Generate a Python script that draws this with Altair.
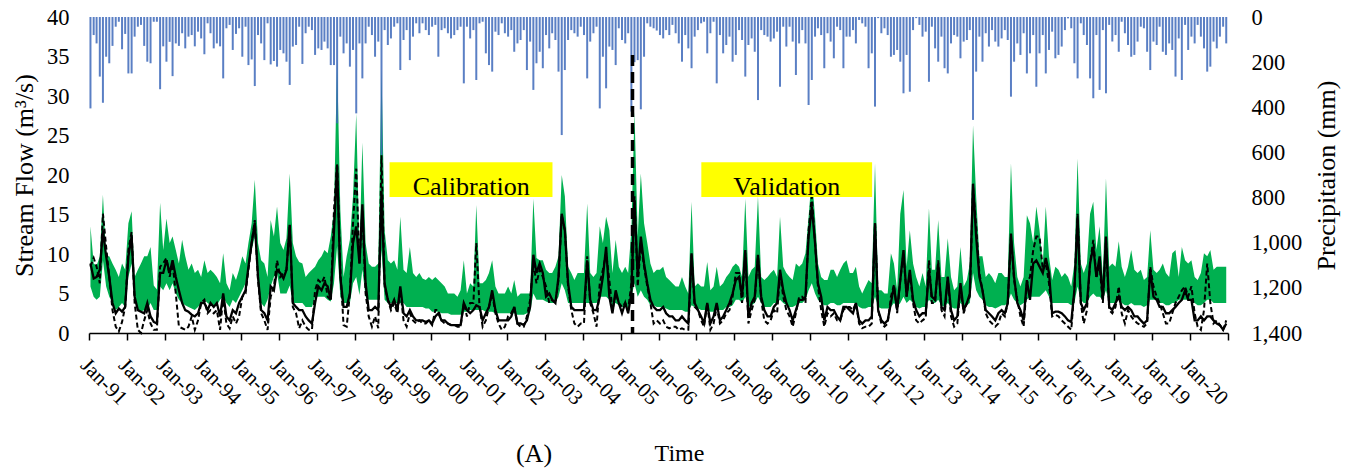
import altair as alt
import pandas as pd

# ---------------- data (monthly, Jan 1991 - Dec 2020) ----------------
precip_mm = [
    405, 80, 117, 264, 380, 176, 205, 128, 43, 21, 143, 75,
    250, 250, 87, 43, 35, 128, 198, 205, 21, 21, 320, 130,
    198, 110, 262, 117, 128, 72, 139, 87, 80, 130, 65, 95,
    165, 28, 72, 139, 117, 130, 272, 50, 35, 146, 75, 50,
    176, 43, 213, 188, 306, 80, 117, 191, 28, 210, 195, 220,
    146, 161, 198, 301, 131, 124, 43, 208, 72, 43, 58, 168,
    139, 146, 109, 139, 213, 213, 471, 87, 161, 117, 220, 146,
    427, 117, 272, 117, 43, 80, 176, 109, 611, 58, 124, 95,
    43, 28, 235, 102, 58, 191, 87, 28, 72, 28, 58, 80,
    43, 35, 176, 58, 50, 72, 95, 80, 58, 43, 294, 43,
    95, 58, 279, 28, 21, 161, 213, 242, 65, 80, 28, 72,
    87, 58, 154, 117, 102, 58, 235, 109, 323, 205, 154, 227,
    80, 139, 72, 102, 242, 523, 235, 102, 58, 72, 87, 43,
    80, 272, 109, 72, 43, 405, 176, 316, 131, 146, 213, 50,
    102, 117, 72, 419, 200, 191, 409, 176, 28, 43, 50, 60,
    80, 95, 58, 80, 35, 72, 117, 198, 80, 139, 227, 87,
    58, 28, 21, 161, 72, 21, 294, 80, 161, 124, 87, 198,
    168, 58, 102, 264, 124, 95, 154, 368, 58, 80, 87, 109,
    95, 65, 309, 43, 131, 43, 109, 257, 117, 58, 117, 390,
    279, 87, 50, 80, 227, 72, 109, 183, 43, 58, 227, 87,
    87, 58, 117, 13, 28, 43, 227, 161, 397, 5, 72, 50,
    80, 176, 168, 146, 198, 338, 168, 331, 58, 5, 35, 87,
    65, 287, 43, 139, 198, 87, 227, 250, 117, 80, 87, 183,
    109, 102, 58, 456, 242, 87, 198, 72, 131, 58, 109, 131,
    95, 58, 102, 353, 198, 117, 168, 72, 250, 161, 80, 309,
    161, 80, 250, 146, 65, 183, 168, 131, 58, 6, 50, 205,
    272, 28, 80, 124, 272, 360, 80, 323, 58, 338, 35, 109,
    80, 154, 21, 72, 124, 176, 168, 109, 43, 50, 154, 235,
    109, 124, 43, 154, 168, 117, 146, 264, 95, 279, 35, 146,
    87, 117, 35, 87, 139, 242, 220, 109, 139, 87, 43, 117,
]

ppu_upper = [
    13.5, 8.8, 8.5, 9.7, 17.5, 9.7, 9.7, 8.8, 8.0, 7.1, 8.8, 8.0,
    13.9, 15.4, 7.1, 8.0, 8.8, 9.7, 9.7, 10.9, 6.0, 5.5, 16.5, 10.5,
    14.5, 11.4, 12.2, 10.5, 8.8, 11.8, 9.7, 8.0, 8.8, 7.6, 8.0, 7.1,
    9.2, 7.6, 8.0, 7.6, 7.1, 6.3, 10.1, 6.3, 5.4, 7.6, 6.7, 8.0,
    9.7, 8.8, 11.4, 13.9, 19.4, 11.4, 9.2, 8.8, 7.1, 14.3, 12.2, 16.0,
    11.4, 10.5, 12.0, 20.2, 11.4, 9.7, 9.0, 8.8, 7.1, 7.6, 8.0, 8.4,
    9.2, 9.7, 10.5, 10.1, 12.2, 15.6, 34.6, 15.6, 7.1, 9.7, 11.8, 17.3,
    27.8, 10.1, 24.1, 11.4, 8.8, 8.4, 8.4, 8.8, 33.4, 13.0, 9.2, 8.8,
    9.2, 8.0, 14.7, 8.0, 7.6, 10.9, 7.6, 7.1, 7.6, 6.9, 6.7, 7.1,
    6.7, 7.1, 6.7, 6.3, 5.9, 5.0, 5.0, 5.0, 4.6, 5.4, 9.2, 5.0,
    6.3, 5.9, 16.2, 6.3, 6.3, 6.7, 7.6, 9.2, 5.9, 5.0, 5.0, 5.0,
    5.9, 5.0, 6.7, 4.6, 5.0, 5.0, 5.0, 5.0, 17.0, 9.5, 9.2, 9.2,
    8.0, 7.6, 7.6, 8.4, 9.7, 20.0, 17.3, 8.4, 7.6, 6.7, 7.6, 7.6,
    7.6, 16.4, 7.6, 7.1, 7.6, 13.5, 11.4, 14.7, 13.0, 7.6, 11.8, 8.4,
    7.6, 8.4, 7.6, 13.0, 28.0, 12.2, 20.2, 13.9, 11.4, 8.8, 7.6, 8.0,
    8.0, 8.4, 7.1, 6.7, 6.3, 5.9, 5.9, 7.1, 5.9, 5.0, 16.6, 5.9,
    6.3, 5.9, 5.9, 9.0, 5.4, 5.9, 8.4, 5.9, 6.3, 7.1, 7.6, 8.4,
    8.8, 8.4, 7.1, 17.0, 7.1, 8.0, 8.4, 17.3, 7.1, 6.7, 7.1, 7.6,
    8.0, 7.1, 14.7, 8.4, 7.6, 7.1, 6.7, 8.8, 8.4, 8.8, 10.1, 14.7,
    19.8, 14.7, 8.8, 7.1, 6.7, 6.7, 8.0, 8.0, 7.1, 8.0, 8.8, 9.2,
    7.6, 7.6, 8.4, 5.9, 5.0, 5.9, 6.7, 6.3, 21.5, 5.4, 5.4, 5.0,
    5.0, 10.1, 8.8, 5.4, 15.1, 18.1, 8.4, 13.0, 8.8, 7.1, 5.9, 7.6,
    5.9, 15.8, 8.0, 8.0, 14.3, 7.1, 7.1, 12.0, 7.1, 5.4, 5.9, 10.9,
    5.9, 6.7, 8.8, 26.3, 17.3, 9.7, 9.7, 7.1, 7.6, 7.1, 6.3, 7.6,
    7.6, 7.1, 7.1, 21.5, 11.4, 7.1, 5.9, 7.1, 14.9, 13.9, 11.4, 16.0,
    13.0, 8.8, 16.0, 9.7, 6.7, 8.4, 8.0, 7.1, 7.6, 7.1, 5.9, 8.8,
    22.1, 8.8, 7.6, 8.8, 15.1, 16.6, 10.5, 13.5, 7.1, 19.6, 8.4, 8.8,
    8.4, 11.6, 8.4, 7.1, 8.4, 10.5, 8.0, 7.6, 8.0, 6.7, 7.1, 13.0,
    8.0, 7.6, 8.0, 8.8, 7.6, 7.1, 10.1, 10.5, 7.1, 10.9, 9.2, 8.8,
    9.2, 7.1, 6.7, 7.6, 10.1, 9.7, 10.5, 8.0, 8.4, 8.4, 8.4, 8.4,
]

ppu_lower = [
    5.9, 4.6, 4.2, 4.6, 9.2, 5.9, 4.6, 3.8, 2.9, 3.3, 3.8, 3.3,
    7.1, 8.8, 4.2, 2.9, 2.7, 2.9, 2.9, 3.8, 2.9, 2.9, 5.9, 5.4,
    6.3, 5.4, 6.3, 5.0, 4.2, 3.8, 3.5, 3.3, 3.1, 2.9, 3.3, 3.8,
    4.2, 3.8, 3.5, 3.3, 3.5, 4.2, 4.6, 3.8, 3.3, 4.2, 3.8, 4.6,
    5.4, 6.3, 8.0, 10.5, 12.2, 6.3, 3.8, 3.3, 4.2, 5.9, 7.1, 7.6,
    5.0, 5.0, 5.0, 6.0, 3.8, 3.8, 3.8, 3.8, 3.3, 3.3, 3.3, 4.6,
    4.6, 4.6, 4.6, 4.2, 4.0, 6.3, 11.0, 4.6, 3.8, 3.8, 3.8, 6.3,
    7.1, 4.8, 8.0, 4.6, 4.2, 4.2, 4.2, 4.2, 10.5, 4.2, 3.8, 3.8,
    3.8, 3.8, 3.8, 3.8, 3.3, 3.3, 3.3, 3.3, 3.3, 3.3, 3.1, 3.1,
    2.7, 2.7, 2.7, 2.5, 2.5, 2.5, 2.3, 2.3, 2.3, 2.3, 2.7, 2.7,
    2.9, 2.9, 2.9, 2.9, 2.9, 2.7, 2.7, 2.7, 2.5, 2.5, 2.5, 2.5,
    2.5, 2.5, 2.5, 2.3, 2.3, 2.3, 2.5, 2.7, 5.0, 4.2, 4.2, 4.2,
    4.0, 3.8, 3.8, 3.8, 4.6, 6.3, 5.4, 3.8, 3.8, 3.8, 3.8, 3.8,
    3.8, 3.8, 3.8, 3.8, 3.8, 4.6, 4.6, 4.6, 4.2, 3.5, 3.8, 3.5,
    3.3, 3.3, 3.3, 4.6, 6.3, 4.6, 5.4, 4.6, 4.2, 3.5, 3.5, 3.3,
    3.3, 3.3, 3.1, 2.9, 2.9, 2.9, 2.9, 2.9, 2.7, 2.7, 3.5, 3.3,
    3.1, 2.9, 2.9, 2.9, 2.7, 2.7, 2.9, 2.9, 2.9, 3.3, 3.3, 3.5,
    4.2, 4.2, 3.8, 4.6, 3.3, 3.5, 3.8, 4.6, 3.8, 3.3, 3.3, 3.3,
    3.8, 3.8, 4.2, 3.8, 3.5, 3.3, 3.3, 3.5, 3.8, 3.8, 4.2, 5.4,
    6.3, 5.0, 4.2, 3.8, 3.5, 3.5, 3.8, 3.8, 3.5, 3.5, 3.8, 3.8,
    3.8, 3.8, 3.8, 3.3, 3.1, 3.1, 3.3, 3.3, 4.6, 3.3, 3.1, 3.1,
    3.1, 3.3, 3.8, 3.3, 3.8, 4.6, 3.8, 4.2, 3.8, 3.3, 3.1, 3.3,
    3.3, 4.2, 3.8, 3.8, 4.2, 3.5, 3.3, 3.8, 3.3, 3.1, 3.1, 3.8,
    3.3, 3.5, 3.8, 7.6, 5.4, 4.6, 4.2, 3.5, 3.3, 3.3, 3.1, 3.3,
    3.5, 3.5, 3.8, 5.0, 4.2, 3.8, 3.5, 3.8, 4.2, 4.6, 4.6, 4.6,
    4.6, 5.0, 5.4, 4.6, 3.8, 3.8, 3.8, 3.8, 3.8, 3.8, 3.5, 3.8,
    5.9, 4.2, 3.8, 3.8, 4.6, 5.0, 4.6, 4.6, 4.2, 5.4, 3.8, 3.8,
    3.8, 4.2, 3.8, 3.5, 3.5, 3.8, 3.5, 3.5, 3.5, 3.3, 3.5, 4.2,
    4.2, 4.2, 3.8, 3.8, 3.5, 3.5, 3.8, 3.8, 4.2, 4.2, 4.2, 4.2,
    4.2, 3.8, 3.5, 3.5, 3.8, 4.2, 4.2, 3.8, 3.8, 3.8, 3.8, 3.8,
]

simulated = [
    8.8, 6.9, 7.1, 8.0, 13.0, 9.7, 7.1, 3.8, 2.5, 3.1, 2.7, 3.3,
    9.7, 12.2, 4.6, 2.9, 2.7, 2.5, 3.8, 2.1, 1.4, 1.2, 7.6, 7.6,
    9.2, 7.6, 9.2, 7.1, 5.4, 3.8, 2.9, 2.7, 2.3, 2.1, 2.5, 3.8,
    3.8, 2.9, 3.8, 3.3, 3.8, 2.1, 5.0, 2.1, 1.6, 2.9, 2.5, 3.8,
    4.6, 5.4, 8.4, 11.4, 13.9, 7.1, 2.9, 2.5, 1.6, 5.9, 5.4, 8.0,
    7.6, 6.9, 8.0, 13.7, 3.8, 3.3, 2.9, 2.9, 2.1, 1.6, 1.2, 3.8,
    5.9, 5.4, 6.3, 5.9, 4.2, 13.0, 21.1, 7.1, 3.3, 3.3, 5.0, 11.4,
    13.5, 8.8, 16.3, 6.3, 2.9, 2.9, 3.3, 2.9, 17.9, 6.3, 4.2, 3.3,
    4.2, 2.9, 5.9, 2.5, 2.1, 2.9, 2.1, 1.6, 1.6, 1.6, 1.4, 1.6,
    1.2, 2.1, 2.5, 1.6, 1.6, 1.2, 1.0, 1.0, 1.0, 1.0, 3.8, 2.9,
    2.5, 2.9, 3.5, 3.3, 1.6, 2.5, 3.3, 5.4, 2.9, 1.6, 1.6, 1.6,
    1.6, 2.1, 3.3, 1.2, 1.2, 1.0, 1.6, 3.3, 9.9, 7.6, 8.8, 7.6,
    4.6, 5.0, 4.2, 3.8, 7.1, 15.1, 13.0, 6.3, 3.3, 2.9, 2.9, 2.9,
    2.9, 9.2, 4.2, 2.9, 2.9, 4.6, 7.1, 10.9, 4.6, 2.5, 5.4, 3.8,
    2.5, 3.8, 2.5, 5.0, 16.8, 7.1, 12.2, 8.8, 6.3, 4.2, 3.3, 2.9,
    2.9, 3.3, 2.5, 2.1, 2.1, 1.6, 1.6, 2.1, 1.6, 1.2, 10.1, 3.8,
    2.9, 2.1, 1.2, 3.8, 1.2, 2.1, 3.8, 1.6, 2.1, 2.9, 3.8, 5.0,
    6.7, 7.1, 4.6, 10.5, 2.1, 3.8, 4.6, 9.9, 4.6, 2.9, 2.1, 2.1,
    3.3, 3.8, 8.0, 5.4, 3.8, 2.9, 1.6, 2.9, 4.2, 4.2, 4.6, 12.2,
    16.0, 11.4, 6.3, 4.6, 1.6, 3.3, 2.9, 2.9, 2.1, 1.6, 3.3, 3.3,
    2.9, 2.5, 3.8, 1.6, 1.2, 1.6, 1.6, 2.1, 13.9, 2.9, 1.6, 1.2,
    1.6, 3.8, 5.9, 2.9, 6.7, 10.5, 4.6, 8.0, 4.2, 2.9, 2.1, 2.5,
    2.5, 8.0, 4.6, 4.2, 8.8, 3.3, 2.9, 7.1, 2.9, 1.6, 2.1, 6.3,
    2.9, 3.8, 5.0, 18.9, 12.2, 7.1, 5.4, 2.9, 2.5, 2.1, 1.6, 2.5,
    2.9, 2.5, 3.8, 12.6, 7.1, 3.8, 2.9, 1.6, 6.7, 4.2, 8.8, 9.2,
    8.4, 7.6, 9.5, 7.6, 2.5, 2.7, 2.7, 2.5, 2.1, 1.6, 1.4, 5.4,
    14.7, 3.8, 2.9, 3.8, 8.8, 10.9, 7.1, 9.7, 4.2, 12.2, 3.3, 2.9,
    3.8, 4.6, 3.3, 2.9, 3.3, 2.9, 2.1, 2.1, 1.6, 1.2, 1.6, 8.0,
    4.6, 4.2, 3.3, 3.3, 2.5, 2.5, 2.9, 3.3, 3.8, 4.2, 5.4, 4.2,
    4.2, 1.6, 1.6, 2.1, 1.6, 2.1, 2.1, 1.6, 1.2, 1.0, 0.4, 1.2,
]

observed = [
    8.4, 9.5, 8.4, 6.3, 15.1, 10.9, 7.1, 2.9, 0.8, 0.2, 1.4, 3.3,
    10.5, 12.8, 3.8, 0.4, 0.0, 1.6, 2.9, 1.2, 0.4, 0.4, 8.4, 8.8,
    9.5, 7.1, 8.8, 5.0, 0.8, 0.6, 0.4, 0.8, 2.1, 0.4, 1.6, 3.8,
    4.2, 2.5, 2.9, 2.5, 2.9, 0.4, 4.6, 1.2, 0.6, 2.1, 1.2, 2.1,
    4.6, 5.0, 8.0, 11.4, 14.3, 6.7, 2.5, 1.6, 0.4, 4.6, 5.9, 9.2,
    7.1, 7.6, 8.0, 13.7, 3.3, 2.5, 0.6, 1.6, 0.8, 0.4, 0.4, 5.4,
    6.7, 6.3, 7.1, 4.6, 4.2, 15.6, 21.5, 8.0, 1.0, 0.8, 5.0, 13.9,
    20.8, 8.8, 15.6, 5.0, 2.1, 0.8, 2.1, 0.6, 22.5, 5.9, 4.2, 2.9,
    3.8, 2.5, 5.4, 1.6, 0.8, 2.5, 1.6, 1.2, 1.6, 1.2, 1.2, 1.6,
    1.0, 2.9, 2.9, 1.6, 1.2, 1.2, 1.0, 1.0, 0.8, 0.8, 3.8, 2.1,
    3.8, 3.8, 11.4, 3.3, 0.8, 1.6, 3.3, 5.0, 2.5, 1.2, 0.4, 0.8,
    2.1, 2.5, 3.3, 1.2, 0.8, 0.8, 2.1, 4.2, 8.8, 6.3, 8.0, 7.1,
    5.9, 3.8, 4.2, 3.8, 6.7, 14.9, 13.0, 5.9, 2.9, 1.2, 0.8, 1.2,
    1.2, 9.7, 3.8, 2.5, 0.8, 6.3, 8.0, 10.1, 6.7, 2.9, 5.0, 3.8,
    3.3, 3.8, 2.9, 6.3, 17.3, 5.9, 11.4, 8.4, 5.9, 3.8, 1.2, 1.6,
    1.2, 1.6, 0.8, 0.6, 0.8, 0.8, 0.4, 0.6, 0.4, 0.4, 9.9, 3.3,
    2.9, 1.6, 0.8, 3.8, 0.4, 1.2, 3.3, 1.2, 1.6, 2.5, 2.9, 4.6,
    7.6, 7.6, 3.8, 10.1, 1.2, 2.9, 4.2, 9.7, 4.2, 1.6, 1.2, 1.6,
    2.9, 2.5, 7.6, 4.6, 2.9, 2.1, 0.8, 2.5, 4.6, 4.6, 3.8, 13.0,
    17.3, 11.4, 5.9, 2.9, 0.8, 2.5, 2.1, 2.5, 1.6, 1.6, 2.9, 3.3,
    3.3, 2.9, 3.8, 1.2, 0.6, 0.8, 0.8, 1.2, 13.9, 2.9, 1.2, 0.8,
    1.2, 4.6, 6.1, 2.5, 6.7, 10.1, 4.6, 7.6, 3.8, 1.6, 1.2, 1.6,
    1.9, 9.2, 3.8, 3.8, 9.2, 2.9, 2.1, 7.1, 2.1, 0.8, 1.2, 5.9,
    2.5, 3.8, 4.6, 18.5, 13.5, 7.6, 5.4, 2.5, 1.6, 1.2, 0.8, 1.2,
    2.5, 2.1, 3.8, 12.2, 6.7, 4.2, 2.1, 0.8, 6.3, 7.1, 10.5, 12.2,
    12.2, 8.0, 8.8, 6.3, 2.1, 2.3, 2.1, 1.6, 1.2, 0.8, 0.4, 5.4,
    15.1, 3.8, 1.2, 2.9, 8.8, 11.8, 7.1, 8.4, 3.8, 11.8, 2.9, 2.5,
    3.3, 5.9, 2.5, 1.2, 2.9, 2.1, 1.6, 1.2, 1.0, 0.8, 1.2, 8.4,
    5.9, 4.6, 3.8, 2.5, 1.2, 1.2, 2.5, 3.8, 4.6, 5.4, 5.9, 4.6,
    5.9, 2.5, 0.8, 0.4, 2.9, 8.8, 3.8, 1.2, 1.6, 1.0, 0.4, 1.6,
]

period_labels = ["Calibration", "Validation"]
period_start = ["1998-12-02T00:00:00", "2007-02-17T00:00:00"]
period_end = ["2003-03-18T00:00:00", "2011-08-18T00:00:00"]
period_mid = ["2001-01-25T00:00:00", "2009-05-19T00:00:00"]
split_date = "2005-04-26T00:00:00"

# ---------------- tables ----------------
months = pd.date_range("1991-01-01", periods=len(precip_mm), freq="MS")
dates = [(m + pd.Timedelta(days=14)).strftime("%Y-%m-%dT00:00:00") for m in months]
df = pd.DataFrame({
    "date": dates, "precip": precip_mm, "upper": ppu_upper,
    "lower": ppu_lower, "sim": simulated, "obs": observed,
})
periods = pd.DataFrame({
    "label": period_labels, "start": period_start, "end": period_end,
    "mid": period_mid, "ylo": [17.2, 17.2], "yhi": [21.6, 21.6], "ytxt": [17.5, 17.5],
})
split = pd.DataFrame({"date": [split_date], "ytop": [35.2], "ybot": [0.0]})
caption = pd.DataFrame({"t": ["(A)"]})

FONT = "Liberation Serif"

xscale = alt.Scale(domain=[alt.DateTime(year=1991, month=1, date=1),
                           alt.DateTime(year=2021, month=1, date=1)], padding=0)
xaxis = alt.Axis(
    values=[alt.DateTime(year=y, month=1, date=1) for y in range(1991, 2022)],
    labelExpr="year(datum.value) > 2020 ? '' : timeFormat(datum.value, '%b-%y')",
    labelAngle=45, labelAlign="left", labelBaseline="top", labelPadding=14,
    labelOffset=2, labelFontSize=21, labelOverlap=False, labelFlush=False,
    labelBound=False, tickSize=7, tickWidth=1.5, tickColor="black",
    domainColor="black", domainWidth=1.5, grid=False,
    titleFontSize=24, titleX=590, titleY=127, titleAlign="center",
    titleBaseline="alphabetic",
)


def X(field):
    return alt.X(field, type="temporal", scale=xscale, axis=xaxis, title="Time")


yscale = alt.Scale(domain=[0, 40], nice=False, zero=False)
yaxis = alt.Axis(
    values=list(range(0, 41, 5)), labelFontSize=22.5, labelPadding=20,
    ticks=False, domain=False, grid=False,
    titleFontSize=26, titleAngle=270, titleX=-57, titleY=158,
    titleAlign="center", titleBaseline="alphabetic",
)
YT = "Stream Flow (m³/s)"


def Y(field):
    return alt.Y(field, type="quantitative", scale=yscale, axis=yaxis, title=YT)


base = alt.Chart(df)
band = base.mark_area(color="#00B050", interpolate="linear").encode(
    x=X("date"), y=Y("lower"), y2="upper")
sim_line = base.mark_line(color="black", strokeWidth=2.3).encode(
    x=X("date"), y=Y("sim"))
obs_line = base.mark_line(color="black", strokeWidth=2, strokeDash=[5, 3]).encode(
    x=X("date"), y=Y("obs"))
boxes = alt.Chart(periods).mark_rect(color="#FFFF00").encode(
    x=X("start"), x2="end", y=Y("ylo"), y2="yhi")
box_text = alt.Chart(periods).mark_text(
    fontSize=26, font=FONT, align="center", baseline="alphabetic", color="black"
).encode(x=X("mid"), y=Y("ytxt"), text="label:N")
cap = alt.Chart(caption).mark_text(
    fontSize=26, font=FONT, align="center", baseline="alphabetic", color="black"
).encode(x=alt.value(445), y=alt.value(445), text="t:N")

flow = alt.layer(band, sim_line, obs_line, boxes, box_text, cap)

bars = base.mark_bar(size=2, color="#3D68BA", opacity=0.85).encode(
    x=X("date"),
    y=alt.Y("precip:Q", title="Precipitaion (mm)",
            scale=alt.Scale(domain=[0, 1400], reverse=True, nice=False),
            axis=alt.Axis(orient="right", values=list(range(0, 1401, 200)),
                          format=",d", labelFontSize=22.5, labelPadding=23,
                          ticks=False, domain=False, grid=False,
                          titleFontSize=26, titleAngle=270, titleX=106, titleY=158,
                          titleAlign="center", titleBaseline="alphabetic")),
)

vline = alt.Chart(split).mark_rule(color="black", strokeWidth=3.5, strokeDash=[11, 6]).encode(
    x=X("date"),
    y=alt.Y("ytop:Q", scale=alt.Scale(domain=[0, 40], nice=False, zero=False), axis=None),
    y2="ybot",
)

chart = alt.layer(flow, bars, vline).resolve_scale(y="independent").properties(
    width=1139, height=316,
    autosize=alt.AutoSizeParams(type="none"),
    padding={"left": 89, "top": 17, "right": 127, "bottom": 136},
).configure(font=FONT).configure_view(stroke=None).configure_axis(
    labelFont=FONT, titleFont=FONT, labelColor="black", titleColor="black",
    titleFontWeight="normal",
)

chart.save("out.html", embed_options={"renderer": "svg", "actions": False})
